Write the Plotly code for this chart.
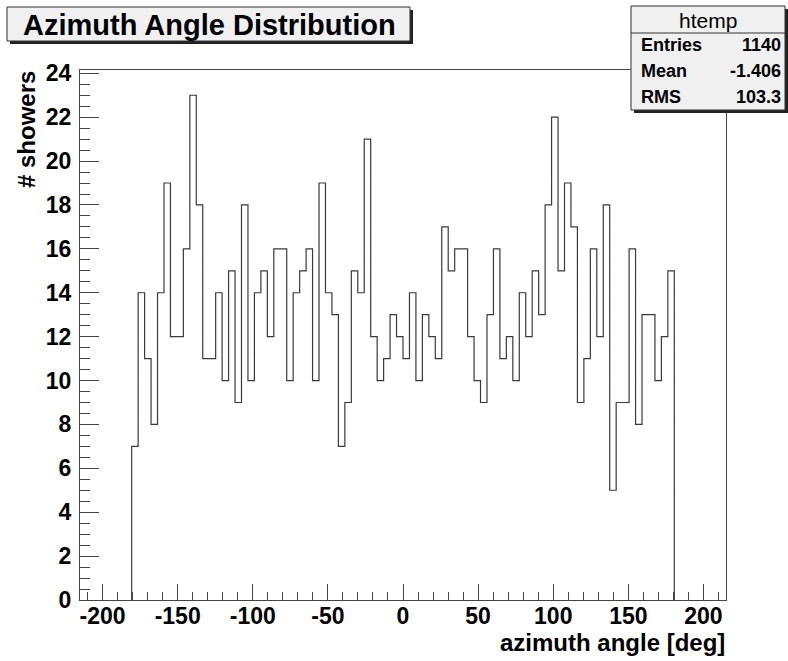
import plotly.graph_objects as go

# ---- data ----
bin_low = -180.6      # low edge of first filled bin
bin_width = 4.3       # 100 bins over [-215, 215]
counts = [7, 14, 11, 8, 14, 19, 12, 12, 16, 23,
          18, 11, 11, 14, 10, 15, 9, 18, 10, 14,
          15, 12, 16, 16, 10, 14, 15, 16, 10, 19,
          14, 13, 7, 9, 15, 14, 21, 12, 10, 11,
          13, 12, 11, 14, 10, 13, 12, 11, 17, 15,
          16, 16, 12, 10, 9, 13, 16, 11, 12, 10,
          14, 12, 15, 13, 18, 22, 15, 19, 17, 9,
          11, 16, 12, 18, 5, 9, 9, 16, 8, 13,
          13, 10, 12, 15]
x_tickvals = [-200, -150, -100, -50, 0, 50, 100, 150, 200]
x_ticktext = ["-200", "-150", "-100", "-50", "0", "50", "100", "150", "200"]
y_tickvals = [0, 2, 4, 6, 8, 10, 12, 14, 16, 18, 20, 22, 24]
y_ticktext = [str(v) for v in y_tickvals]
stats_labels = ["Entries", "Mean", "RMS"]
stats_values = ["1140", "-1.406", "103.3"]
title_text = "Azimuth Angle Distribution"
stats_title = "htemp"
x_title = "azimuth angle [deg]"
y_title = "# showers"

# ---- build step outline ----
edges = [bin_low + i * bin_width for i in range(len(counts) + 1)]
xs = [edges[0]] + edges[:-1] + [edges[-1], edges[-1]]
ys = [0] + counts + [counts[-1], 0]

W, H = 788, 661
L, R, T, B = 80, 62, 70, 61
PW, PH = W - L - R, H - T - B


def px(x):
    return (x - L) / PW


def py(y):
    return (H - B - y) / PH


FONT = "Liberation Sans"

fig = go.Figure()
fig.add_trace(go.Scatter(x=xs, y=ys, mode="lines", line_shape="hv",
                         line=dict(color="#3a3a3a", width=1.2),
                         hoverinfo="skip", showlegend=False))

shapes = []
# title box (shadow + box)
shapes.append(dict(type="rect", xref="paper", yref="paper",
                   x0=px(10), x1=px(413), y0=py(10), y1=py(44),
                   fillcolor="#222222", line=dict(width=0), layer="above"))
shapes.append(dict(type="rect", xref="paper", yref="paper",
                   x0=px(7), x1=px(410), y0=py(7), y1=py(41),
                   fillcolor="#f0f0f0", line=dict(color="#333333", width=1), layer="above"))
# stats box
shapes.append(dict(type="rect", xref="paper", yref="paper",
                   x0=px(634), x1=px(788), y0=py(9), y1=py(113),
                   fillcolor="#222222", line=dict(width=0), layer="above"))
shapes.append(dict(type="rect", xref="paper", yref="paper",
                   x0=px(631), x1=px(785), y0=py(6), y1=py(110),
                   fillcolor="#f0f0f0", line=dict(color="#333333", width=1), layer="above"))
shapes.append(dict(type="line", xref="paper", yref="paper",
                   x0=px(631), x1=px(785), y0=py(33), y1=py(33),
                   line=dict(color="#333333", width=1), layer="above"))

ann = []
ann.append(dict(text=title_text, xref="paper", yref="paper", x=px(209), y=py(25),
                xanchor="center", yanchor="middle", showarrow=False,
                font=dict(family=FONT, size=29, color="black", weight="bold")))
ann.append(dict(text=stats_title, xref="paper", yref="paper", x=px(708), y=py(20),
                xanchor="center", yanchor="middle", showarrow=False,
                font=dict(family=FONT, size=21, color="black")))
row_y = [45, 71, 97]
for lab, val, yy in zip(stats_labels, stats_values, row_y):
    ann.append(dict(text=lab, xref="paper", yref="paper", x=px(639), y=py(yy),
                    xanchor="left", yanchor="middle", showarrow=False,
                    font=dict(family=FONT, size=18, color="black", weight="bold")))
    ann.append(dict(text=val, xref="paper", yref="paper", x=px(783), y=py(yy),
                    xanchor="right", yanchor="middle", showarrow=False,
                    font=dict(family=FONT, size=18, color="black", weight="bold")))
ann.append(dict(text=x_title, xref="paper", yref="paper", x=px(727), y=py(642),
                xanchor="right", yanchor="middle", showarrow=False,
                font=dict(family=FONT, size=24, color="black", weight="bold")))
ann.append(dict(text=y_title, xref="paper", yref="paper", x=px(26), y=py(130),
                xanchor="center", yanchor="middle", showarrow=False, textangle=-90,
                font=dict(family=FONT, size=24, color="black", weight="bold")))

tickfont = dict(family=FONT, size=23, color="black", weight="bold")
fig.update_layout(
    width=W, height=H,
    margin=dict(l=L, r=R, t=T, b=B, autoexpand=False),
    paper_bgcolor="white", plot_bgcolor="white",
    shapes=shapes, annotations=ann,
    xaxis=dict(range=[-215, 215], tickmode="array", tickvals=x_tickvals, ticktext=x_ticktext,
               ticks="inside", ticklen=16, tickwidth=1, tickcolor="#444444",
               minor=dict(tickmode="linear", tick0=0, dtick=10, ticks="inside",
                          ticklen=8, tickwidth=1, tickcolor="#444444"),
               showline=True, mirror=True, linecolor="#444444", linewidth=1,
               showgrid=False, zeroline=False, tickfont=tickfont, fixedrange=True,
               ticklabelstandoff=-5),
    yaxis=dict(range=[0, 24.15], tickmode="array", tickvals=y_tickvals, ticktext=y_ticktext,
               ticks="inside", ticklen=19, tickwidth=1, tickcolor="#444444",
               minor=dict(tickmode="linear", tick0=0, dtick=0.5, ticks="inside",
                          ticklen=10, tickwidth=1, tickcolor="#444444"),
               showline=True, mirror=True, linecolor="#444444", linewidth=1,
               showgrid=False, zeroline=False, tickfont=tickfont, fixedrange=True,
               ticklabelstandoff=3),
)

fig.write_html("out.html", config={"displayModeBar": False},
               post_script="document.body.style.margin='0px';")
